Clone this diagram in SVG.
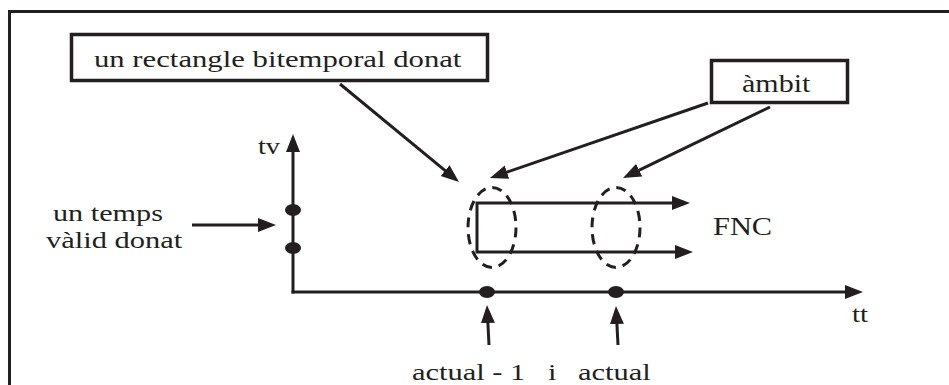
<svg xmlns="http://www.w3.org/2000/svg" width="949" height="385" viewBox="0 0 949 385">
  <style>
    .frame { fill: none; stroke: #231f20; stroke-width: 3; }
    .box { fill: #ffffff; stroke: #231f20; stroke-width: 3.5; }
    .line { fill: none; stroke: #231f20; stroke-width: 3; }
    .arrow { fill: none; stroke: #231f20; stroke-width: 3; marker-end: url(#head); }
    .scope { fill: none; stroke: #231f20; stroke-width: 3; stroke-dasharray: 10 7; }
    .dot { fill: #231f20; }
  </style>
  <defs>
    <marker id="head" markerUnits="userSpaceOnUse" markerWidth="20" markerHeight="16" refX="4" refY="7" orient="auto-start-reverse">
      <path d="M0,0 L18,7 L0,14 z" fill="#231f20"/>
    </marker>
  </defs>

  <!-- outer frame -->
  <rect class="frame" x="9.5" y="11.5" width="980" height="420"/>

  <!-- callout boxes -->
  <g id="box-rectangle">
    <rect class="box" x="71.5" y="34.5" width="416" height="46"/>
    <text font-family="Liberation Serif, Times New Roman, serif" font-size="24" fill="#231f20" transform="translate(94 67) scale(1.28 1)">un rectangle bitemporal donat</text>
  </g>
  <g id="box-ambit">
    <rect class="box" x="711.5" y="60.5" width="136" height="42"/>
    <text font-family="Liberation Serif, Times New Roman, serif" font-size="25" fill="#231f20" transform="translate(742 92) scale(1.2 1)">àmbit</text>
  </g>

  <!-- axes -->
  <g id="axis-tv">
    <line class="arrow" x1="293" y1="293.5" x2="293" y2="148"/>
    <text font-family="Liberation Serif, Times New Roman, serif" font-size="24" fill="#231f20" transform="translate(258 154) scale(1.18 1)">tv</text>
  </g>
  <g id="axis-tt">
    <line class="arrow" x1="291.5" y1="292" x2="849" y2="292"/>
    <text font-family="Liberation Serif, Times New Roman, serif" font-size="24" fill="#231f20" transform="translate(852 322) scale(1.2 1)">tt</text>
  </g>

  <!-- points on the axes -->
  <g id="valid-time-points">
    <ellipse class="dot" cx="293" cy="210" rx="8" ry="6"/>
    <ellipse class="dot" cx="293" cy="248" rx="8" ry="6"/>
  </g>
  <g id="transaction-time-points">
    <ellipse class="dot" cx="487" cy="292" rx="8" ry="6"/>
    <ellipse class="dot" cx="616" cy="292" rx="8" ry="6"/>
  </g>

  <!-- bitemporal rectangle, open towards the future -->
  <g id="rectangle">
    <path class="line" d="M676,203 H477 V252 H679" marker-start="url(#head)" marker-end="url(#head)"/>
    <text font-family="Liberation Serif, Times New Roman, serif" font-size="26" fill="#231f20" transform="translate(713 235) scale(1.17 1)">FNC</text>
  </g>

  <!-- scope ellipses -->
  <g id="scope-left">
    <ellipse class="scope" cx="492" cy="227.5" rx="24" ry="40"/>
  </g>
  <g id="scope-right">
    <ellipse class="scope" cx="616" cy="227.5" rx="24" ry="40"/>
  </g>

  <!-- labels -->
  <g id="label-valid-time">
    <text font-family="Liberation Serif, Times New Roman, serif" font-size="24" fill="#231f20" transform="translate(53 221) scale(1.26 1)">un temps</text>
    <text font-family="Liberation Serif, Times New Roman, serif" font-size="24" fill="#231f20" transform="translate(46 248) scale(1.27 1)">vàlid donat</text>
  </g>
  <g id="label-current">
    <text font-family="Liberation Serif, Times New Roman, serif" font-size="24" fill="#231f20" transform="translate(412 380) scale(1.27 1)">actual - 1</text>
    <text font-family="Liberation Serif, Times New Roman, serif" font-size="24" fill="#231f20" transform="translate(548 380) scale(1.27 1)">i</text>
    <text font-family="Liberation Serif, Times New Roman, serif" font-size="24" fill="#231f20" transform="translate(578 380) scale(1.27 1)">actual</text>
  </g>

  <!-- connectors -->
  <g id="connectors">
    <line class="arrow" x1="340" y1="84" x2="448.2" y2="173.1"/>
    <line class="arrow" x1="708" y1="103" x2="503.2" y2="173.4"/>
    <line class="arrow" x1="770" y1="107" x2="635.6" y2="171.9"/>
    <line class="arrow" x1="192" y1="225" x2="262" y2="225"/>
    <line class="arrow" x1="489" y1="345" x2="487.7" y2="319"/>
    <line class="arrow" x1="618" y1="345" x2="616.7" y2="320"/>
  </g>
</svg>
